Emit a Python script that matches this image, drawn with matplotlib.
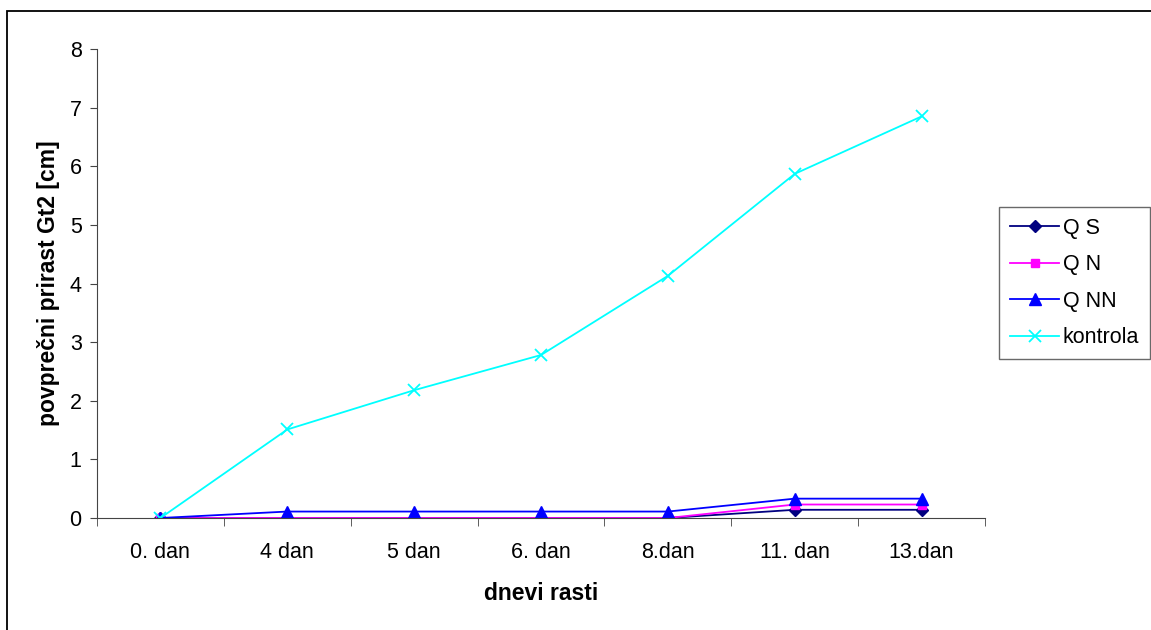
import matplotlib.pyplot as plt
from matplotlib.patches import Rectangle
import numpy as np

plt.rcParams['font.family'] = ['Liberation Sans', 'DejaVu Sans']

days = ['0. dan', '4 dan', '5 dan', '6. dan', '8.dan', '11. dan', '13.dan']
qs = [0, 0, 0, 0, 0, 0.14, 0.14]
qn = [0, 0, 0, 0, 0, 0.23, 0.23]
qnn = [0, 0.11, 0.11, 0.11, 0.11, 0.33, 0.33]
kontrola = [0, 1.51, 2.18, 2.78, 4.13, 5.87, 6.85]

fig = plt.figure(figsize=(11.51, 6.30), dpi=100)
ax = fig.add_axes([97/1151, 1-518/630, (985-97)/1151, (518-49)/630])

# outer chart frame
fig.patches.append(Rectangle((7/1151, -0.1), 1.2, 1.1-11/630, transform=fig.transFigure,
                             fill=False, edgecolor='black', linewidth=1.3))

x = np.arange(len(days))
ax.plot(x, qs, color='#000080', marker='D', markersize=6, linewidth=1.3, label='Q S')
ax.plot(x, qn, color='#FF00FF', marker='s', markersize=6, linewidth=1.3, label='Q N')
ax.plot(x, qnn, color='#0000FF', marker='^', markersize=9, linewidth=1.3, label='Q NN')
ax.plot(x, kontrola, color='#00FFFF', marker='x', markersize=9, markeredgewidth=1.3,
        linewidth=1.3, label='kontrola')

ax.set_xlim(-0.5, len(days) - 0.5)
ax.set_ylim(0, 8)
ax.set_yticks(range(0, 9))
ax.set_xticks(x)
ax.set_xticklabels(days)
ax.set_xticks(np.arange(-0.5, len(days)), minor=True)
ax.tick_params(axis='x', which='major', length=0, pad=17, labelsize=15.5)
ax.tick_params(axis='x', which='minor', length=6, direction='out', color='#444444')
ax.tick_params(axis='y', length=5, direction='out', color='#444444', labelsize=15.5, pad=6)

for side in ('top', 'right'):
    ax.spines[side].set_visible(False)
for side in ('left', 'bottom'):
    ax.spines[side].set_color('#444444')

ax.set_xlabel('dnevi rasti', fontsize=16.5, fontweight='bold', labelpad=14)
ax.set_ylabel('povprečni prirast Gt2 [cm]', fontsize=16.5, fontweight='bold', labelpad=7)

leg = ax.legend(loc='upper left', bbox_to_anchor=(999/1151, 1-207/630),
                bbox_transform=fig.transFigure, fontsize=15.5, frameon=True,
                fancybox=False, edgecolor='#444444', borderpad=0.5,
                handlelength=2.3, handletextpad=0.15, labelspacing=0.72,
                borderaxespad=0)
leg.get_frame().set_linewidth(1.0)

fig.savefig('out.png', dpi=100)
